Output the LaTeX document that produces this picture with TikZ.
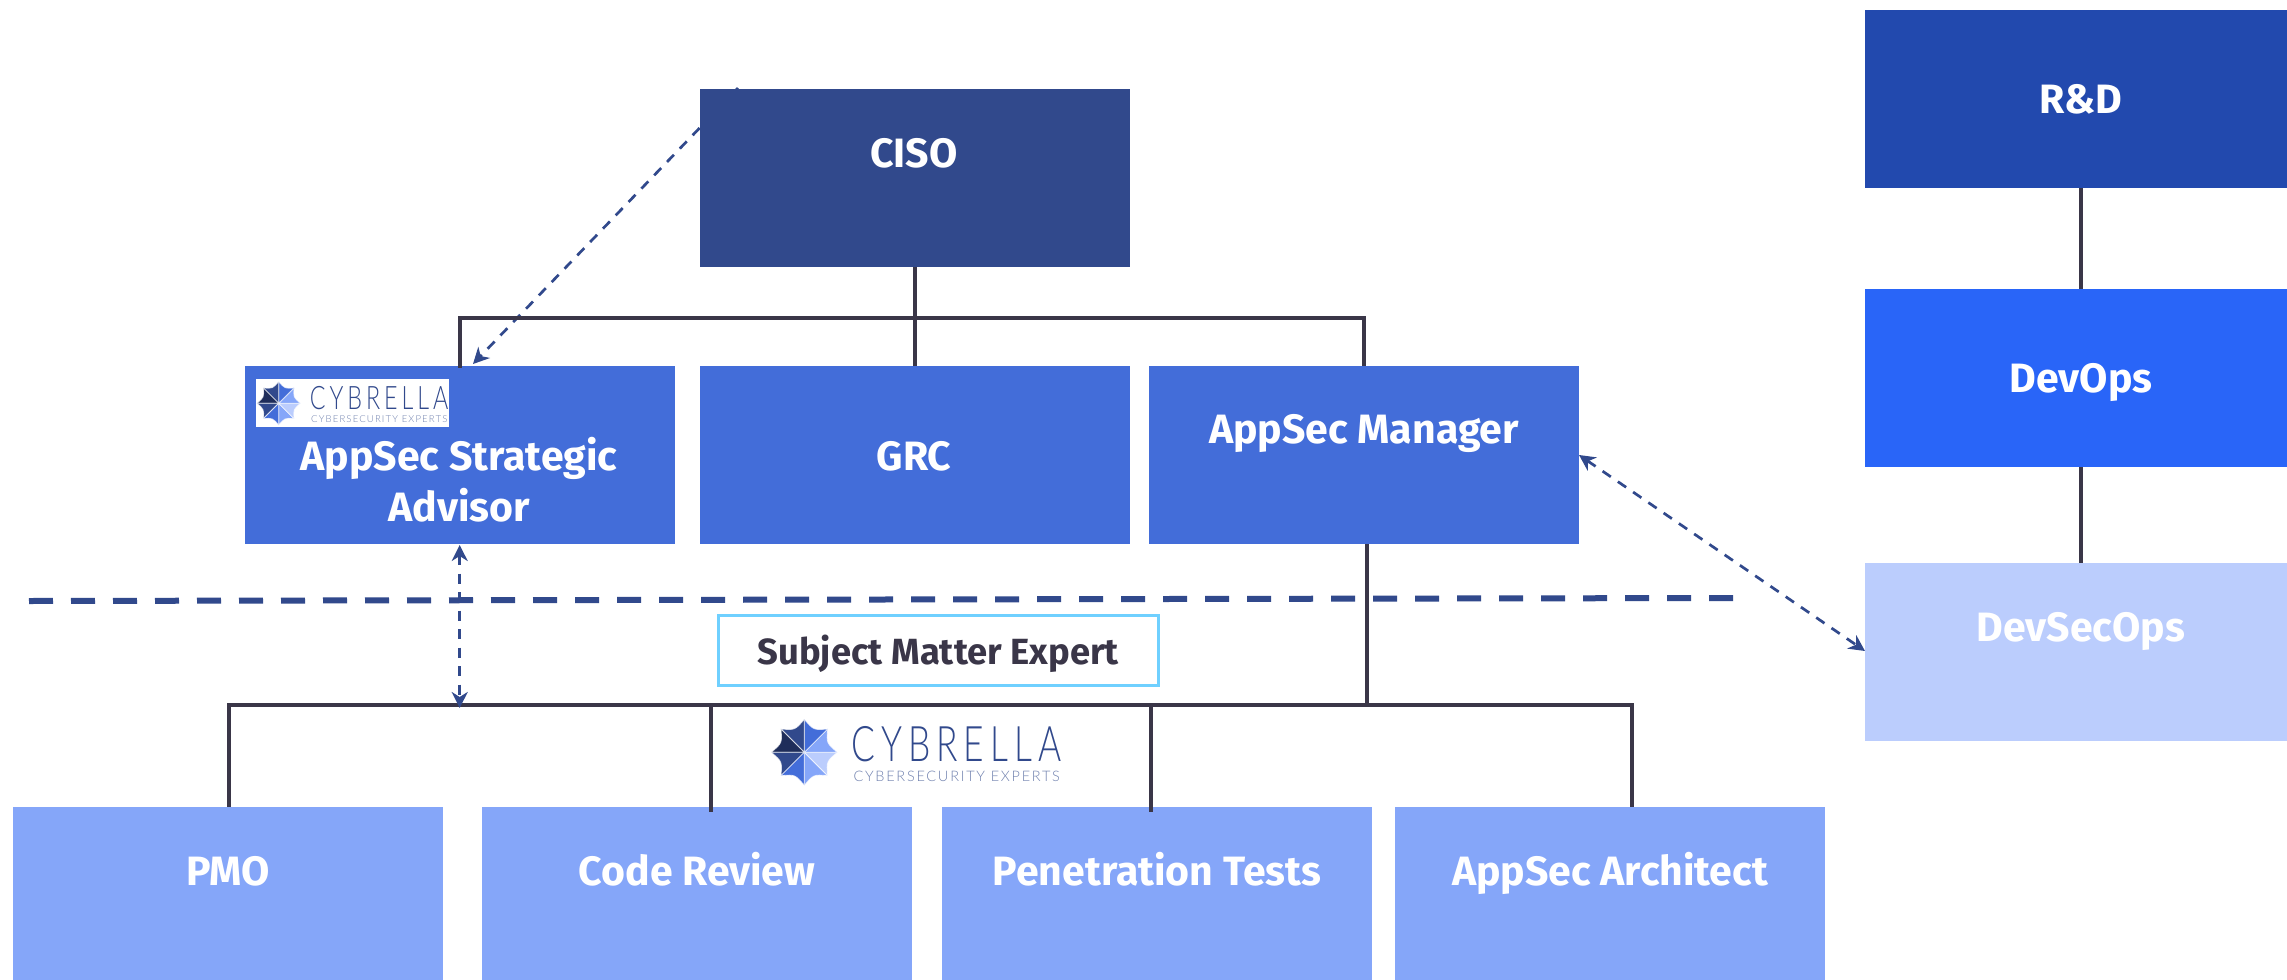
\documentclass[tikz,border=0pt]{standalone}
\usepackage{fontspec}
\usetikzlibrary{arrows.meta,calc,backgrounds}
\setmainfont{Fira Sans}
\newfontfamily\logofont{Lato Light}
\definecolor{navy}{HTML}{31498C}
\definecolor{royal}{HTML}{436DD9}
\definecolor{bright}{HTML}{2965F8}
\definecolor{rnd}{HTML}{2249AE}
\definecolor{sky}{HTML}{85A6F9}
\definecolor{pale}{HTML}{BBCDFD}
\definecolor{ink}{HTML}{3A3648}
\definecolor{cyanline}{HTML}{6FD0FF}
\definecolor{darknavy}{HTML}{1F2D5A}
\definecolor{sublogo}{HTML}{6F80AE}
\tikzset{
  x=1pt,y=-1pt,
  box/.style n args={3}{draw=none,fill=#3,minimum width=#1,minimum height=#2,inner sep=0pt,outer sep=0pt,anchor=north west},
  boxtext/.style={text=white,font=\fontsize{41}{51}\selectfont\bfseries,align=center,inner sep=0pt,anchor=base},
  orgline/.style={draw=ink,line width=4pt},
  thindash/.style={draw=navy,line width=2.7pt,dash pattern=on 10pt off 8.5pt},
  tipp/.tip={Stealth[length=16pt,width=16pt,inset=5pt]},
  wedge/.style={fill=#1,draw=white,draw opacity=.7,line width=.8pt},
  pics/umbrella/.style={code={
    \foreach \a/\c in {90/sky,45/pale,0/sky,-45/royal,-90/navy,-135/darknavy,180/navy,135/royal}{
      \path[wedge=\c] (0,0) -- (\a:33) .. controls (\a-22.5:24) .. (\a-45:33) -- cycle;
    }
    \node[text=navy,font=\logofont\fontsize{49}{49}\selectfont\addfontfeature{LetterSpace=17},anchor=base west,inner sep=0pt,xscale=.72,transform shape] at (47,9.5) {CYBRELLA};
    \node[text=sublogo,font=\logofont\fontsize{14.5}{15}\selectfont\addfontfeature{LetterSpace=12},anchor=base west,inner sep=0pt,transform shape] at (49,28.7) {CYBERSECURITY EXPERTS};
  }}
}
\begin{document}
\begin{tikzpicture}
\useasboundingbox (0,0) rectangle (2287,980);
% named coordinates
\coordinate (topbus) at (915,318);
\coordinate (busL) at (460,318);
\coordinate (busR) at (1364,318);
\coordinate (lowbus) at (1367,705);
\coordinate (lowL) at (229,705);
\coordinate (lowC) at (711,705);
\coordinate (lowD) at (1151,705);
\coordinate (lowR) at (1632,705);
\coordinate (advTop) at (460,368);
\coordinate (cisoTail) at (738,88);
\coordinate (advArrow) at (473,364);
\coordinate (mgrPort) at (1579,455);
\coordinate (dsoPort) at (1865,651);
\coordinate (advBottom) at (459.7,545);
\coordinate (busPort) at (459.7,708);
\coordinate (dashL) at (29,601);
\coordinate (dashR) at (1733,598);
\coordinate (rightX) at (2081,0);
\begin{pgfonlayer}{background}
\fill[white] (0,0) rectangle (2287,980);
\draw[thindash,-{tipp}] (cisoTail) -- (advArrow);
\end{pgfonlayer}
% boxes
\node[box={430}{178}{navy}] (ciso) at (700,89) {};
\node[box={430}{178}{royal}] (advisor) at (245,366) {};
\node[box={430}{178}{royal}] (grc) at (700,366) {};
\node[box={430}{178}{royal}] (manager) at (1149,366) {};
\node[box={422}{178}{rnd}] (rd) at (1865,10) {};
\node[box={422}{178}{bright}] (devops) at (1865,289) {};
\node[box={422}{178}{pale}] (devsecops) at (1865,563) {};
\node[box={430}{175}{sky}] (pmo) at (13,807) {};
\node[box={430}{175}{sky}] (code) at (482,807) {};
\node[box={430}{175}{sky}] (pen) at (942,807) {};
\node[box={430}{175}{sky}] (arch) at (1395,807) {};
% org lines
\draw[orgline] (ciso.south -| topbus) -- (topbus);
\draw[orgline,line cap=rect] (busL) -- (busR);
\draw[orgline] (busL) -- (advTop);
\draw[orgline] (topbus) -- (topbus |- grc.north);
\draw[orgline] (busR) -- (busR |- manager.north);
\draw[orgline] (manager.south -| lowbus) -- (lowbus);
\draw[orgline,line cap=rect] (lowL) -- (lowR);
\draw[orgline] (lowL) -- (lowL |- pmo.north);
\draw[orgline] (lowC) -- ($(lowC |- code.north)+(0,5)$);
\draw[orgline] (lowD) -- ($(lowD |- pen.north)+(0,5)$);
\draw[orgline] (lowR) -- (lowR |- arch.north);
\draw[orgline] (rd.south -| rightX) -- (devops.north -| rightX);
\draw[orgline] (devops.south -| rightX) -- (devsecops.north -| rightX);
% dashed
\draw[navy,line width=6pt,dash pattern=on 24pt off 18pt] (dashL) -- (dashR);
\draw[thindash,{tipp}-{tipp}] (mgrPort) -- (dsoPort);
\draw[thindash,{tipp}-{tipp}] (advBottom) -- (busPort);
% sme
\node[draw=cyanline,line width=3pt,fill=white,minimum width=440pt,minimum height=69.5pt,inner sep=0pt,anchor=center,text=ink,text height=27pt,text depth=0pt,font=\fontsize{36.4}{40}\selectfont\bfseries] (sme) at (938.3,650.5) {Subject Matter Expert};
% labels
\node[boxtext] (t1) at (914,167) {CISO};
\node[boxtext] (t2) at (459,521) {AppSec Strategic\\Advisor};
\node[boxtext] (t3) at (914,470) {GRC};
\node[boxtext] (t4) at (1364,443) {AppSec Manager};
\node[boxtext] (t5) at (2081,113) {R\&D};
\node[boxtext] (t6) at (2081,392) {DevOps};
\node[boxtext] (t7) at (2081,641) {DevSecOps};
\node[boxtext] (t8) at (228,885) {PMO};
\node[boxtext] (t9) at (697,885) {Code Review};
\node[boxtext] (t10) at (1157,885) {Penetration Tests};
\node[boxtext] (t11) at (1610,885) {AppSec Architect};
% logos
\node[fill=white,minimum width=193pt,minimum height=48pt,inner sep=0pt,anchor=north west] (logobox) at (256,379) {};
\pic[scale=.66,transform shape] at (278.7,403.3) {umbrella};
\pic at (804.3,752.3) {umbrella};
\end{tikzpicture}
\end{document}
